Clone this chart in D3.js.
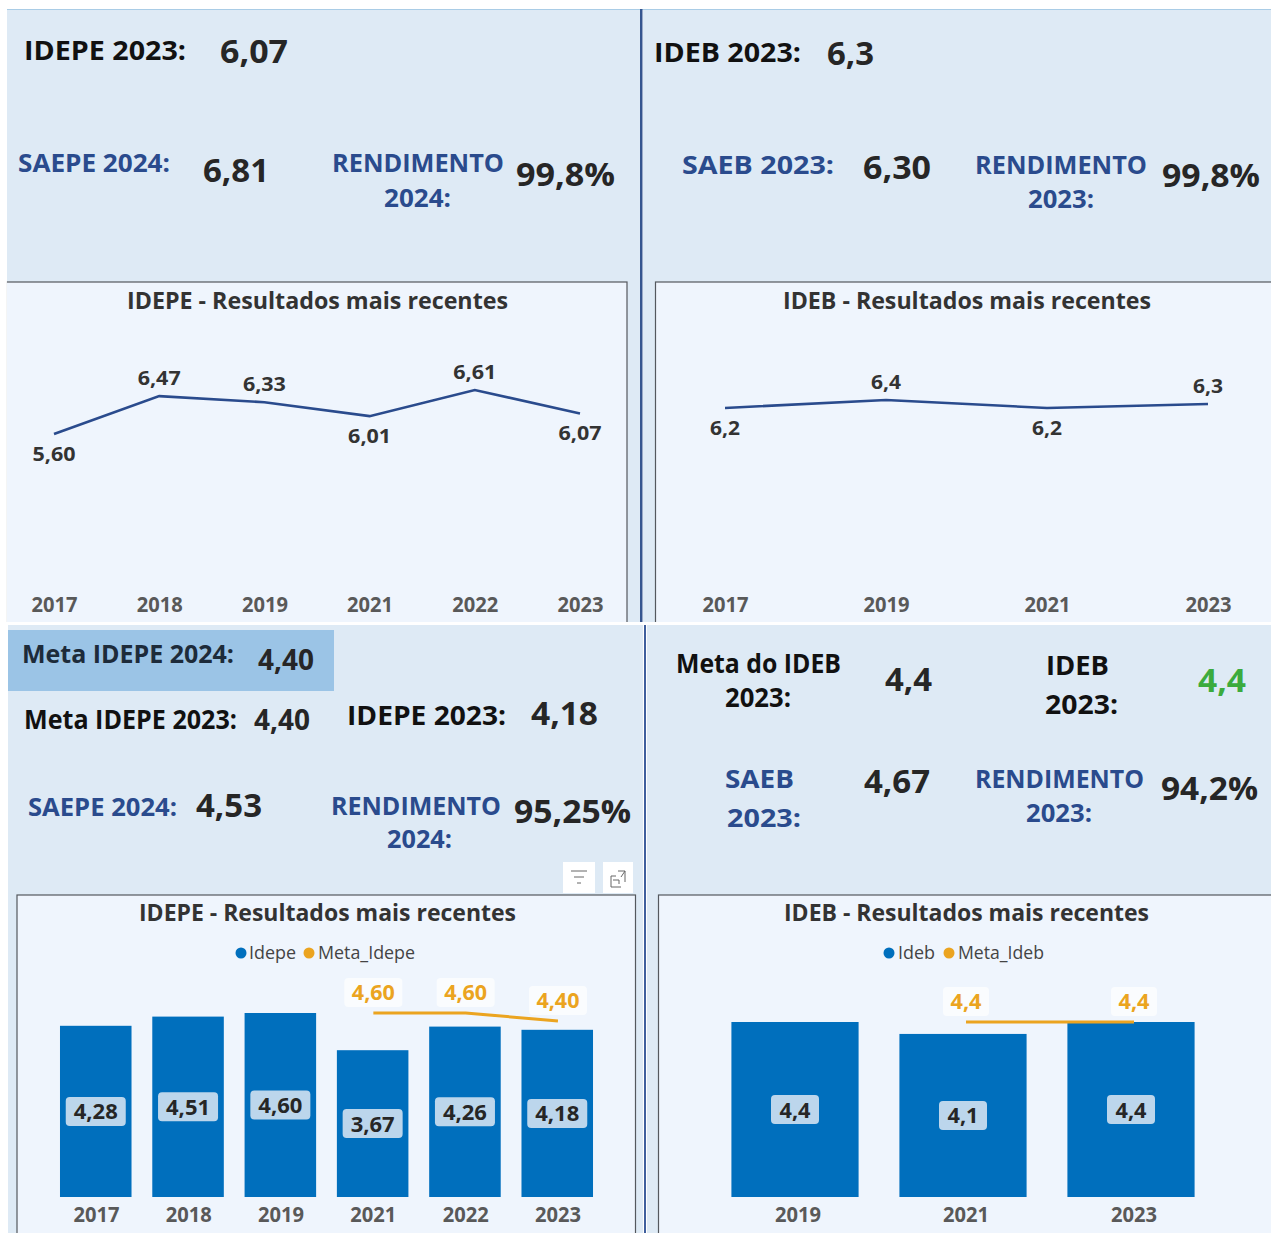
<!DOCTYPE html>
<html lang="pt-BR"><head><meta charset="utf-8">
<style>html,body{margin:0;background:#fff}svg{display:block}text{font-family:"Open Sans","Noto Sans",sans-serif}</style>
<script src="https://cdn.jsdelivr.net/npm/d3@7/dist/d3.min.js"></script></head><body>
<svg id="c" width="1271" height="1233"></svg>
<script>
// Data
const idepeLineYears = ["2017","2018","2019","2021","2022","2023"];
const idepeLineValues = [5.60,6.47,6.33,6.01,6.61,6.07];
const idepeLineBelow = [true,false,false,true,false,true];
const idebLineYears = ["2017","2019","2021","2023"];
const idebLineValues = [6.2,6.4,6.2,6.3];
const idebLineBelow = [true,false,true,false];
const idepeBarYears = ["2017","2018","2019","2021","2022","2023"];
const idepeBarValues = [4.28,4.51,4.60,3.67,4.26,4.18];
const metaIdepeYears = ["2021","2022","2023"];
const metaIdepeValues = [4.60,4.60,4.40];
const idebBarYears = ["2019","2021","2023"];
const idebBarValues = [4.4,4.1,4.4];
const metaIdebYears = ["2021","2023"];
const metaIdebValues = [4.4,4.4];

const PANEL="#deeaf5", CHART="#eff5fd", NAVY="#2a4b8d", DARK="#262626", BLACK="#111", BLUE="#006fbd", ORANGE="#eba420", GRAY="#595959", EDGE="#54585e";
const svg=d3.select("#c");
const comma=(v,d)=>v.toFixed(d).replace(".",",");

function rect(x0,y0,x1,y1,fill,stroke){
  return svg.append("rect").attr("x",x0).attr("y",y0).attr("width",x1-x0).attr("height",y1-y0)
    .attr("fill",fill).attr("stroke",stroke||"none").attr("stroke-width",stroke?1.2:0);
}
function txt(x0,x1,y,s,size,color,weight){
  return svg.append("text").attr("x",x0).attr("y",y).attr("font-size",size).attr("fill",color)
    .attr("font-weight",weight||700).attr("textLength",x1-x0).attr("lengthAdjust","spacingAndGlyphs").text(s);
}
const num=(x0,x1,y,s,size)=>txt(x0,x1,y,s,size||32,DARK,700);
const head=(x0,x1,y,s)=>txt(x0,x1,y,s,27,BLACK,700);
const sub=(x0,x1,y,s)=>txt(x0,x1,y,s,25,NAVY,700);
const title=(x0,x1,y,s)=>txt(x0,x1,y,s,24,"#333",700);

// Panels and cards, top row first so the lower row overlaps any overflow
rect(7,9,640,622,PANEL);
rect(643,9,1271,622,PANEL);
rect(7,9,1271,10,"#a9cce6");
rect(6,282,627,630,CHART,EDGE);
rect(655.5,282,1280,630,CHART,EDGE);
rect(640,9,642.5,622,"#35558f");
rect(0,270,6.9,640,"#fff");
rect(0,622,1271,640,"#fff");
rect(8,625,643,1233,PANEL);
rect(647,625,1271,1233,PANEL);
rect(644,625,646,1233,"#3f5f9d");
rect(8,630,334,691,"#9bc4e6");
rect(17,895,635.5,1250,CHART,EDGE);
rect(658.5,895,1280,1250,CHART,EDGE);

// KPI text: top left
head(24,186,60,"IDEPE 2023:"); num(220,288,63,"6,07");
sub(18,170,172,"SAEPE 2024:"); num(203,269,182,"6,81");
sub(332,504,172,"RENDIMENTO"); sub(384,451,207,"2024:"); num(516,615,186,"99,8%");
title(127,508,309,"IDEPE - Resultados mais recentes");
// top right
head(654,801,62,"IDEB 2023:"); num(827,874,65,"6,3");
sub(682,834,174,"SAEB 2023:"); num(863,931,179,"6,30");
sub(975,1147,174,"RENDIMENTO"); sub(1028,1094,208,"2023:"); num(1162,1260,187,"99,8%");
title(783,1151,309,"IDEB - Resultados mais recentes");
// bottom left
txt(22,234,663,"Meta IDEPE 2024:",25,"#1d2b3a",700); num(258,314,670,"4,40",29);
head(24,237,729,"Meta IDEPE 2023:"); num(254,310,730,"4,40",29);
head(347,506,725,"IDEPE 2023:"); num(531,598,725,"4,18");
sub(28,177,816,"SAEPE 2024:"); num(196,262,817,"4,53");
sub(331,501,815,"RENDIMENTO"); sub(387,452,848,"2024:"); num(514,631,823,"95,25%");
title(139,516,921,"IDEPE - Resultados mais recentes");
// bottom right
head(676,841,673,"Meta do IDEB"); head(725,791,707,"2023:"); num(885,932,691,"4,4");
head(1046,1109,675,"IDEB"); head(1045,1118,714,"2023:"); txt(1198,1246,692,"4,4",32,"#3cab3d",700);
sub(725,794,788,"SAEB"); sub(727,801,827,"2023:"); num(864,930,793,"4,67");
sub(975,1144,788,"RENDIMENTO"); sub(1026,1092,822,"2023:"); num(1161,1258,800,"94,2%");
title(784,1149,921,"IDEB - Resultados mais recentes");

// Hover icons
rect(563,862,595,893,"#fff"); rect(603,862,633,893,"#fff");
svg.append("path").attr("d","M571 871H587M574 877H584M577 883H581").attr("stroke","#666").attr("fill","none");
svg.append("path").attr("d","M611 876V887H621M611 876H616M625 882V871H618M619 884V880H613M621 877L625 871")
  .attr("stroke","#666").attr("fill","none");

function axis(scale,y,w){
  const g=svg.append("g").attr("transform",`translate(0,${y})`)
    .call(d3.axisBottom(scale).tickSize(0).tickPadding(0));
  g.select(".domain").remove();
  g.selectAll("text").attr("y",0).attr("dy",0).attr("font-size",21).attr("font-weight",700)
    .attr("fill",GRAY).attr("font-family",'"Open Sans"').attr("textLength",w).attr("lengthAdjust","spacingAndGlyphs");
}
function lineChart(years,vals,below,xr,dom,yr,dec){
  const x=d3.scalePoint().domain(years).range(xr);
  const y=d3.scaleLinear().domain(dom).range(yr);
  const data=years.map((t,i)=>({t,v:vals[i],b:below[i]}));
  svg.append("path").datum(data).attr("fill","none").attr("stroke",NAVY).attr("stroke-width",2.6)
    .attr("d",d3.line().x(d=>x(d.t)).y(d=>y(d.v)));
  svg.append("g").selectAll("text").data(data).join("text")
    .attr("x",d=>x(d.t)).attr("y",d=>y(d.v)+(d.b?26.5:-11)).attr("text-anchor","middle")
    .attr("font-size",20).attr("font-weight",700).attr("fill","#333")
    .attr("textLength",dec==2?43:30).attr("lengthAdjust","spacingAndGlyphs")
    .text(d=>comma(d.v,dec));
  axis(x,612,46);
}
lineChart(idepeLineYears,idepeLineValues,idepeLineBelow,[54,580],[5.6,6.61],[434,390],2);
lineChart(idebLineYears,idebLineValues,idebLineBelow,[725,1208],[6.2,6.4],[408,400],1);

function barChart(o){
  const band=r=>d3.scaleBand().domain(o.years).range(r).paddingInner(o.pad).paddingOuter(o.pad/2);
  const x=band(o.xr);
  const y=d3.scaleLinear().domain([0,o.max]).range([1197,o.top]);
  const data=o.years.map((t,i)=>({t,v:o.vals[i]}));
  const cx=t=>x(t)+x.bandwidth()/2;
  const g=svg.append("g");
  g.selectAll("rect").data(data).join("rect").attr("x",d=>x(d.t)).attr("y",d=>y(d.v))
    .attr("width",x.bandwidth()).attr("height",d=>1197-y(d.v)).attr("fill",BLUE);
  const mid=d=>(y(d.v)+1197)/2;
  g.selectAll("rect.lb").data(data).join("rect").attr("class","lb")
    .attr("x",d=>cx(d.t)-o.bw/2).attr("y",d=>mid(d)-14.5).attr("width",o.bw).attr("height",29).attr("rx",4)
    .attr("fill","#bcd6ec");
  g.selectAll("text").data(data).join("text").attr("x",d=>cx(d.t)).attr("y",d=>mid(d)+8)
    .attr("text-anchor","middle").attr("font-size",22).attr("font-weight",700).attr("fill",DARK)
    .attr("textLength",o.dec==2?44:31).attr("lengthAdjust","spacingAndGlyphs").text(d=>comma(d.v,o.dec));
  // meta line shares the value scale, with category positions slightly offset as in the source
  const mx=band(o.xr.map(v=>v+o.shift));
  const mc=t=>mx(t)+mx.bandwidth()/2;
  const meta=o.metaYears.map((t,i)=>({t,v:o.metaVals[i]}));
  svg.append("path").datum(meta).attr("fill","none").attr("stroke",ORANGE).attr("stroke-width",3)
    .attr("d",d3.line().x(d=>mc(d.t)).y(d=>y(d.v)));
  const m=svg.append("g");
  m.selectAll("rect").data(meta).join("rect").attr("x",d=>mc(d.t)-o.mw/2).attr("y",d=>y(d.v)-35)
    .attr("width",o.mw).attr("height",29).attr("rx",4).attr("fill","#fafcfe");
  m.selectAll("text").data(meta).join("text").attr("x",d=>mc(d.t)).attr("y",d=>y(d.v)-13)
    .attr("text-anchor","middle").attr("font-size",22).attr("font-weight",700).attr("fill",ORANGE)
    .attr("textLength",o.dec==2?43:31).attr("lengthAdjust","spacingAndGlyphs").text(d=>comma(d.v,o.dec));
  axis(mx,1222,46);
}
barChart({years:idepeBarYears,vals:idepeBarValues,metaYears:metaIdepeYears,metaVals:metaIdepeValues,
  xr:[49.6,603.4],pad:.225,max:4.6,top:1013,bw:60,mw:58,dec:2,shift:.7});
barChart({years:idebBarYears,vals:idebBarValues,metaYears:metaIdebYears,metaVals:metaIdebValues,
  xr:[711,1215],pad:.243,max:4.4,top:1022,bw:48,mw:46,dec:1,shift:3});

// Legends
function legend(x1,t1,a1,b1,x2,t2,a2,b2){
  svg.append("circle").attr("cx",x1).attr("cy",953).attr("r",5.5).attr("fill",BLUE);
  svg.append("circle").attr("cx",x2).attr("cy",953).attr("r",5.5).attr("fill",ORANGE);
  txt(a1,b1,959,t1,18,"#444",400); txt(a2,b2,959,t2,18,"#444",400);
}
legend(241,"Idepe",249,296,309,"Meta_Idepe",318,415);
legend(889,"Ideb",898,935,949,"Meta_Ideb",958,1044);
</script></body></html>
